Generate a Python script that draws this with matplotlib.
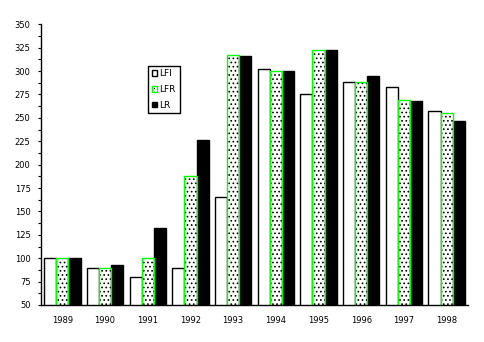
import matplotlib.pyplot as plt
from matplotlib.patches import Rectangle
from matplotlib.ticker import MultipleLocator
import numpy as np

years = ['1989', '1990', '1991', '1992', '1993', '1994', '1995', '1996', '1997', '1998']
lfi = [100, 90, 80, 90, 165, 302, 275, 288, 283, 257]
lfr = [100, 90, 100, 188, 317, 300, 322, 288, 269, 255]
lr = [100, 93, 132, 226, 316, 300, 323, 295, 268, 247]

plt.rcParams['font.family'] = 'DejaVu Sans'
plt.rcParams['hatch.linewidth'] = 0.7

fig = plt.figure(figsize=(4.84, 3.42), dpi=100)
W, H = 484, 342
ax = fig.add_axes([41 / W, (H - 305) / H, (468 - 41) / W, (305 - 24.3) / H])

x = np.arange(len(years))
w = 0.284
green = '#00ff00'

# LFI: white bars, black outline
ax.bar(x - w, lfi, w, color='white', edgecolor='black', lw=1.0, zorder=2)
# LFR: dotted fill, green outline
ax.bar(x, lfr, w, color='white', edgecolor='black', hatch='....', lw=0, zorder=2)
ax.bar(x, lfr, w, fill=False, edgecolor=green, lw=1.0, zorder=3)
# LR: solid black
ax.bar(x + w, lr, w, color='black', edgecolor='black', lw=1.0, zorder=2)

ax.set_xlim(-0.5, len(years) - 0.5)
ax.set_ylim(50, 350)
ax.yaxis.set_major_locator(MultipleLocator(25))
ax.yaxis.set_minor_locator(MultipleLocator(12.5))
ax.set_xticks(x)
ax.set_xticklabels(years)
ax.tick_params(axis='x', length=0, pad=8, labelsize=6)
ax.tick_params(axis='y', which='both', length=2.5, width=0.8, pad=5, labelsize=6)
for s in ['top', 'right']:
    ax.spines[s].set_visible(False)
for s in ['left', 'bottom']:
    ax.spines[s].set_linewidth(1.0)
    ax.spines[s].set_zorder(4)

handles = [
    Rectangle((0, 0), 1, 1, facecolor='white', edgecolor='black', lw=1),
    Rectangle((0, 0), 1, 1, facecolor='white', edgecolor=green, lw=1),
    Rectangle((0, 0), 1, 1, facecolor='black', edgecolor='black', lw=1),
]
leg = fig.legend(handles, ['LFI', 'LFR', 'LR'], loc='upper left',
                 bbox_to_anchor=(148.3 / W, 1 - 65.7 / H), borderaxespad=0,
                 fancybox=False, edgecolor='black', framealpha=1, fontsize=6.5,
                 handlelength=0.55, handleheight=0.55, handletextpad=0.3,
                 labelspacing=0.75, borderpad=0.4)
leg.get_frame().set_linewidth(1.0)

# single centre dot inside the LFR legend key
fig.canvas.draw()
key = leg.legend_handles[1]
bb = key.get_window_extent()
cx, cy = fig.transFigure.inverted().transform(((bb.x0 + bb.x1) / 2, (bb.y0 + bb.y1) / 2))
fig.add_artist(Rectangle((cx - 0.6 / W, cy - 0.6 / H), 1.2 / W, 1.2 / H,
                         transform=fig.transFigure, color='black', lw=0, zorder=10))

fig.savefig('out.png', dpi=100)
